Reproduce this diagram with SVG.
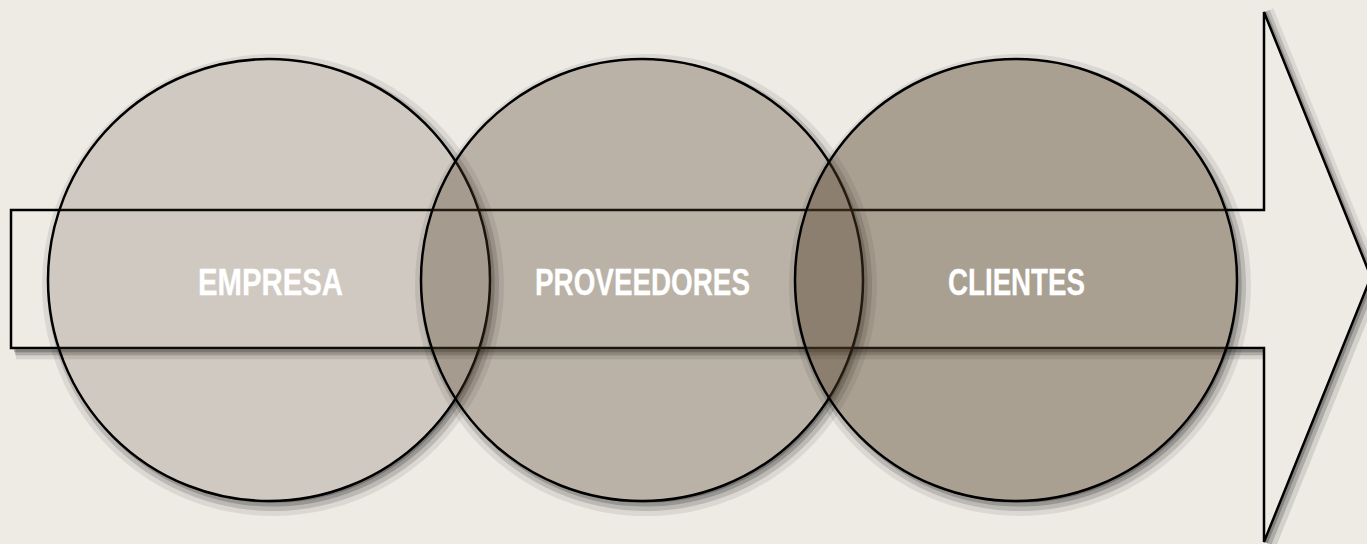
<svg xmlns="http://www.w3.org/2000/svg" width="1367" height="544" viewBox="0 0 1367 544">
<style>
.arrow{fill:#EEEBE5;stroke:#000;stroke-width:2.5;stroke-linejoin:miter}
.c{fill:#4E3C26;stroke:none}
.s{fill:#000;fill-rule:evenodd}
.s1{fill-opacity:0.22}
.s2{fill-opacity:0.19}
.s3{fill-opacity:0.14}
.s4{fill-opacity:0.08}
.ring{fill:none;stroke:#000;stroke-width:2.5}
.lbl{font-family:"Liberation Sans",Arial,sans-serif;font-weight:bold;font-size:37px;fill:#fff;stroke:#fff;stroke-width:0.3;text-anchor:middle}
</style>
<rect width="1367" height="544" fill="#EEEBE5"/>
<g id="arrow">
<path class="arrow" d="M11,210 H1264 V12 L1371,277 L1264,542 V348 H11 Z"/>
<rect class="s" x="14" y="349.3" width="1249" height="3" fill-opacity="0.24"/>
<rect class="s" x="15" y="349.3" width="1248" height="6" fill-opacity="0.18"/>
<rect class="s" x="16" y="349.3" width="1247" height="10" fill-opacity="0.1"/>
<polygon class="s" fill-opacity="0.24" points="1372,277 1265,542 1267.7,543.5 1374.7,278.5"/>
<polygon class="s" fill-opacity="0.18" points="1372,277 1265,542 1271.4,545 1378.4,280"/>
<polygon class="s" fill-opacity="0.11" points="1372,277 1265,542 1276,546.9 1383,281.9"/>
<polygon class="s" fill-opacity="0.2" points="1265,12 1372,277 1373.8,275.9 1266.8,10.9"/>
<polygon class="s" fill-opacity="0.14" points="1265,12 1372,277 1376.6,274.8 1269.6,9.8"/>
<polygon class="s" fill-opacity="0.08" points="1265,12 1372,277 1380.3,273.3 1273.3,8.3"/>
</g>
<g id="empresa">
<path class="s s1" d="M486.7,241.7 A218,218 0 0 1 183.8,483.9 A221,221 0 0 0 486.7,241.7 Z"/>
<path class="s s2" d="M420.3,118.8 A222,222 0 1 1 78.5,392.2 A221,221 0 1 0 420.3,118.8 Z"/>
<path class="s s3" d="M271,59 A226,226 0 1 1 53,233.4 A221,221 0 1 0 271,59 Z"/>
<path class="s s4" d="M42,285 a231,231 0 1,0 462,0 a231,231 0 1,0 -462,0 Z M48,280 a221,221 0 1,0 442,0 a221,221 0 1,0 -442,0 Z"/>
<circle class="c" cx="269" cy="280" r="221" fill-opacity="0.19"/>
<circle class="ring" cx="269" cy="280" r="221"/>
</g>
<g id="proveedores">
<path class="s s1" d="M859.7,241.7 A218,218 0 0 1 556.8,483.9 A221,221 0 0 0 859.7,241.7 Z"/>
<path class="s s2" d="M793.3,118.8 A222,222 0 1 1 451.5,392.2 A221,221 0 1 0 793.3,118.8 Z"/>
<path class="s s3" d="M644,59 A226,226 0 1 1 426,233.4 A221,221 0 1 0 644,59 Z"/>
<path class="s s4" d="M415,285 a231,231 0 1,0 462,0 a231,231 0 1,0 -462,0 Z M421,280 a221,221 0 1,0 442,0 a221,221 0 1,0 -442,0 Z"/>
<circle class="c" cx="642" cy="280" r="221" fill-opacity="0.32"/>
<circle class="ring" cx="642" cy="280" r="221"/>
</g>
<g id="clientes">
<path class="s s1" d="M1233.7,241.7 A218,218 0 0 1 930.8,483.9 A221,221 0 0 0 1233.7,241.7 Z"/>
<path class="s s2" d="M1167.3,118.8 A222,222 0 1 1 825.5,392.2 A221,221 0 1 0 1167.3,118.8 Z"/>
<path class="s s3" d="M1018,59 A226,226 0 1 1 800,233.4 A221,221 0 1 0 1018,59 Z"/>
<path class="s s4" d="M789,285 a231,231 0 1,0 462,0 a231,231 0 1,0 -462,0 Z M795,280 a221,221 0 1,0 442,0 a221,221 0 1,0 -442,0 Z"/>
<circle class="c" cx="1016" cy="280" r="221" fill-opacity="0.43"/>
<circle class="ring" cx="1016" cy="280" r="221"/>
</g>
<g id="labels">
<text class="lbl" x="270.5" y="295" textLength="145" lengthAdjust="spacingAndGlyphs">EMPRESA</text>
<text class="lbl" x="642.5" y="295" textLength="215" lengthAdjust="spacingAndGlyphs">PROVEEDORES</text>
<text class="lbl" x="1016.5" y="295" textLength="137" lengthAdjust="spacingAndGlyphs">CLIENTES</text>
</g>
</svg>
